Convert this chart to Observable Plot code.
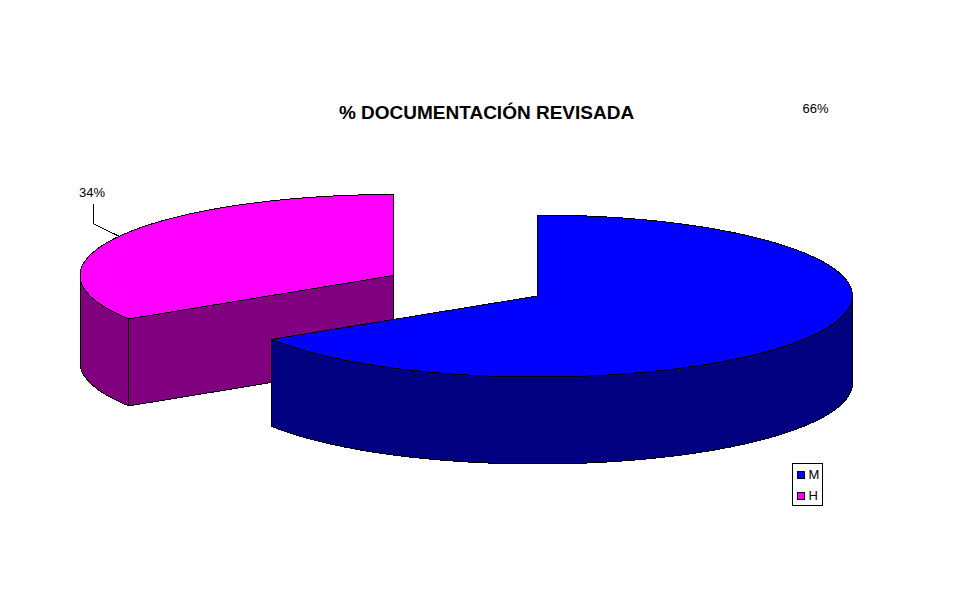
<!DOCTYPE html>
<html>
<head>
<meta charset="utf-8">
<style>html,body{margin:0;padding:0;background:#fff}svg{display:block}</style>
<script src="https://cdn.jsdelivr.net/npm/d3@7"></script>
<script src="https://cdn.jsdelivr.net/npm/@observablehq/plot@0.6"></script>
</head>
<body>
<script>
const categories = ["M", "H"];
const shares = [66, 34];
const topColors = ["#0000ff", "#ff00ff"];
const sideColors = ["#000080", "#800080"];
const titleText = "% DOCUMENTACIÓN REVISADA";

// Exploded 3D pie layout (pixel space of the SVG)
const W = 969, H = 604;
const ry = 81, depth = 87;
const centers = {M: [537, 295.5, 315], H: [393, 275, 313.5]}; // cx, cy, horizontal radius
const total = d3.sum(shares);
const cut = (shares[0] / total) * 2 * Math.PI; // both slices share this boundary angle

const pt = ([cx, cy, rx], a, dy = 0) => [cx + rx * Math.sin(a), cy - ry * Math.cos(a) + dy];
const arc = (c, a0, a1, dy = 0) => d3.range(0, 181).map(i => pt(c, a0 + (a1 - a0) * i / 180, dy));

const polys = [];
const add = (id, fill, points) => points.forEach(p => polys.push({id, fill, x: p[0], y: p[1]}));

// H slice: side walls first, then top
const cH = centers.H;
add("H-cut", sideColors[1], [pt(cH, cut), cH, [cH[0], cH[1] + depth], pt(cH, cut, depth)]);
add("H-wall", sideColors[1], [...arc(cH, cut, 1.5 * Math.PI), ...arc(cH, 1.5 * Math.PI, cut, depth)]);
add("H-top", topColors[1], [cH, ...arc(cH, cut, 2 * Math.PI)]);
// M slice
const cM = centers.M;
add("M-wall", sideColors[0], [...arc(cM, Math.PI / 2, cut), ...arc(cM, cut, Math.PI / 2, depth)]);
add("M-top", topColors[0], [cM, ...arc(cM, 0, cut)]);

const legendRows = categories.map((c, i) => ({c, fill: topColors[i], top: 471 + i * 21}));

const chart = Plot.plot({
  width: W, height: H, margin: 0,
  x: {domain: [0, W], range: [0, W], axis: null},
  y: {domain: [0, H], range: [0, H], axis: null},
  style: {background: "#fff", fontFamily: "'Liberation Sans', Arial, sans-serif"},
  marks: [
    Plot.line(polys, {
      x: "x", y: "y", z: "id", fill: "fill", stroke: "#000", strokeWidth: 1,
      curve: "linear-closed", shapeRendering: "crispEdges"
    }),
    // leader line for the H label
    Plot.line([[92.5, 203], [92.5, 223], [119, 236]], {
      x: d => d[0], y: d => d[1], stroke: "#000", strokeWidth: 1, shapeRendering: "crispEdges"
    }),
    Plot.text([`${shares[1]}%`], {x: () => 91.5, y: () => 192.5, text: d => d, fontSize: 13, fill: "#000"}),
    Plot.text([`${shares[0]}%`], {x: () => 815, y: () => 108.5, text: d => d, fontSize: 13, fill: "#000"}),
    Plot.text([titleText], {x: () => 486, y: () => 112.5, text: d => d, fontSize: 19, fontWeight: "bold", fill: "#000"}),
    // legend
    Plot.rect([0], {x1: () => 792.5, x2: () => 822.5, y1: () => 463.5, y2: () => 505.5, fill: "#fff", stroke: "#000", shapeRendering: "crispEdges"}),
    Plot.rect(legendRows, {x1: () => 797.5, x2: () => 804.5, y1: d => d.top + 0.5, y2: d => d.top + 7.5, fill: "fill", stroke: "#000", shapeRendering: "crispEdges"}),
    Plot.text(legendRows, {x: () => 808, y: d => d.top + 3.5, text: "c", textAnchor: "start", fontSize: 13, fill: "#000"})
  ]
});
document.body.appendChild(chart);
</script>
</body>
</html>
